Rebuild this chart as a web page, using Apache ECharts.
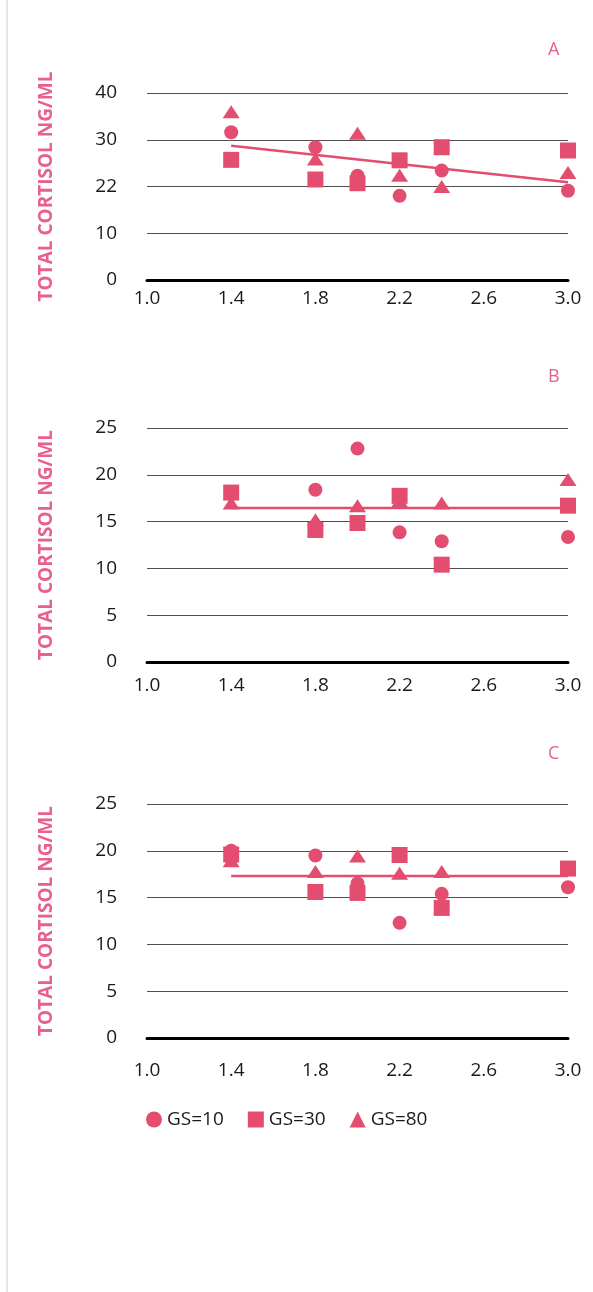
<!DOCTYPE html>
<html>
<head>
<meta charset="utf-8">
<script src="https://cdn.jsdelivr.net/npm/echarts@6/dist/echarts.min.js"></script>
<style>
html,body{margin:0;padding:0;background:#fff;}
#chart{width:593px;height:1292px;}
</style>
</head>
<body>
<div id="chart"></div>
<script>
// ---- data ----
var xValues = [1.4, 1.8, 2.0, 2.2, 2.4, 3.0];
var xTickLabels = ['1.0', '1.4', '1.8', '2.2', '2.6', '3.0'];
var yTickLabelsA = ['0', '10', '22', '30', '40'];
var yTickLabelsBC = ['0', '5', '10', '15', '20', '25'];
var seriesNames = ['GS=10', 'GS=30', 'GS=80'];
var panelNames = ['A', 'B', 'C'];
var yTitle = 'TOTAL CORTISOL NG/ML';

var gs10A = [31.6, 28.4, 22.3, 18.0, 23.4, 19.1];
var gs30A = [25.7, 21.5, 20.7, 25.6, 28.4, 27.7];
var gs80A = [36.0, 25.9, 31.4, 22.4, 20.0, 23.0];
var trendA = [[1.4, 28.7], [3.0, 20.9]];

var gs10B = [18.0, 18.4, 22.8, 13.85, 12.9, 13.35];
var gs30B = [18.1, 14.1, 14.85, 17.75, 10.4, 16.7];
var gs80B = [17.0, 15.2, 16.7, 17.2, 17.0, 19.5];
var trendB = [[1.4, 16.45], [3.0, 16.45]];

var gs10C = [20.0, 19.5, 16.5, 12.3, 15.4, 16.1];
var gs30C = [19.6, 15.6, 15.5, 19.55, 13.9, 18.1];
var gs80C = [18.95, 17.8, 19.45, 17.6, 17.8, null];
var trendC = [[1.4, 17.3], [3.0, 17.3]];

// ---- styling ----
var PINK = '#E34D70';
var TITLE_PINK = '#E8618A';
var FONT = '"Open Sans", sans-serif';

function pts(vals) {
  var out = [];
  for (var i = 0; i < xValues.length; i++) {
    if (vals[i] !== null) out.push([xValues[i], vals[i]]);
  }
  return out;
}

var panels = [
  {top: 93, height: 187, max: 40, interval: 10, labels: yTickLabelsA, data: [gs10A, gs30A, gs80A], trend: trendA, labelMargin: 9, tTop: 36},
  {top: 428, height: 234, max: 25, interval: 5, labels: yTickLabelsBC, data: [gs10B, gs30B, gs80B], trend: trendB, labelMargin: 14, tTop: 363},
  {top: 804, height: 234, max: 25, interval: 5, labels: yTickLabelsBC, data: [gs10C, gs30C, gs80C], trend: trendC, labelMargin: 23, tTop: 740}
];

var symbols = ['circle', 'rect', 'triangle'];
var sizes = [14, 16, [17, 13]];

var grids = [], xAxes = [], yAxes = [], series = [], titles = [];
panels.forEach(function (p, k) {
  grids.push({left: 147, right: 25, top: p.top, height: p.height});
  xAxes.push({
    type: 'value', gridIndex: k, min: 1.0, max: 3.0, interval: 0.4,
    axisLine: {show: true, onZero: false, lineStyle: {color: '#000', width: 3}},
    axisTick: {show: false},
    splitLine: {show: false},
    axisLabel: {
      margin: p.labelMargin, fontFamily: FONT, fontSize: 19, color: '#1a1a1a',
      formatter: function (v) { return xTickLabels[Math.round((v - 1.0) / 0.4)]; }
    }
  });
  yAxes.push({
    type: 'value', gridIndex: k, min: 0, max: p.max, interval: p.interval,
    name: yTitle, nameLocation: 'middle', nameRotate: 90, nameGap: 91,
    nameTextStyle: {fontFamily: FONT, fontSize: 19, fontWeight: 'bold', color: TITLE_PINK},
    axisLine: {show: false}, axisTick: {show: false},
    splitLine: {show: true, lineStyle: {color: '#505050', width: 1}},
    axisLabel: {
      margin: 30, fontFamily: FONT, fontSize: 19, color: '#1a1a1a',
      formatter: (function (labels, iv) { return function (v) { return labels[Math.round(v / iv)]; }; })(p.labels, p.interval)
    }
  });
  for (var s = 0; s < 3; s++) {
    series.push({
      name: seriesNames[s], type: 'scatter', xAxisIndex: k, yAxisIndex: k,
      symbol: symbols[s], symbolSize: sizes[s],
      itemStyle: {color: PINK, opacity: 1},
      data: pts(p.data[s]), z: 2 + s
    });
  }
  series.push({
    name: 'trend' + k, type: 'line', xAxisIndex: k, yAxisIndex: k,
    data: p.trend, showSymbol: false, symbol: 'none', silent: true,
    lineStyle: {color: PINK, width: 2.5}, z: 6
  });
  titles.push({text: panelNames[k], left: 543, top: p.tTop,
    textStyle: {fontFamily: FONT, fontSize: 18, fontWeight: 'normal', color: TITLE_PINK}});
});

var chart = echarts.init(document.getElementById('chart'), null, {renderer: 'canvas'});
chart.setOption({
  animation: false,
  backgroundColor: '#fff',
  title: titles,
  grid: grids,
  xAxis: xAxes,
  yAxis: yAxes,
  series: series,
  legend: {
    data: [
      {name: 'GS=10', icon: 'circle', itemStyle: {color: PINK}},
      {name: 'GS=30', icon: 'rect', itemStyle: {color: PINK}},
      {name: 'GS=80', icon: 'triangle', itemStyle: {color: PINK}}
    ],
    left: 141, top: 1105, itemWidth: 16, itemHeight: 16, itemGap: 24,
    textStyle: {fontFamily: FONT, fontSize: 19, color: '#1a1a1a'},
    selectedMode: false
  },
  graphic: [{type: 'rect', shape: {x: 6, y: 0, width: 2, height: 1292}, style: {fill: '#e6e6e6'}, silent: true}]
});
</script>
</body>
</html>
